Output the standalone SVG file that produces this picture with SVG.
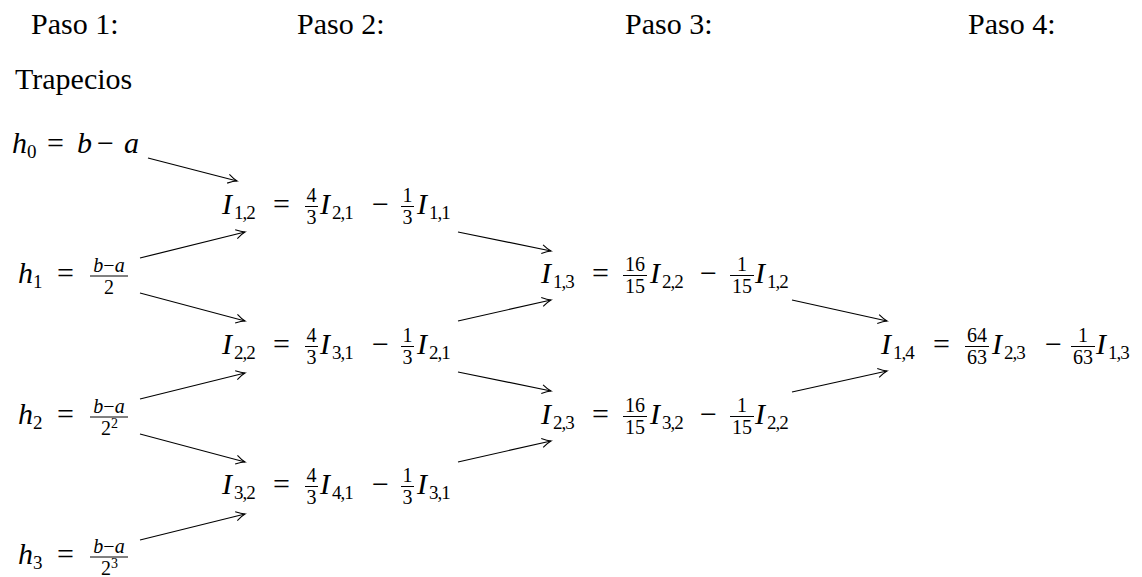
<svg xmlns="http://www.w3.org/2000/svg" width="1142" height="577" viewBox="0 0 1142 577">
<style>
text{font-family:"Liberation Serif","DejaVu Serif",serif;fill:#000}
.t{font-size:30px}
.m{font-size:30px;font-style:italic}
.s{font-size:20px}
.si{font-size:20px;font-style:italic}
.sub{font-size:19px;letter-spacing:-1px}
.sup{font-size:14px}
.c{text-anchor:middle}
.bar{stroke:#000;stroke-width:1}
.arr{stroke:#000;stroke-width:1.2;fill:none;marker-end:url(#ah)}
</style>
<defs>
<marker id="ah" markerUnits="userSpaceOnUse" viewBox="-10 -6 12 12" markerWidth="12" markerHeight="12" refX="0" refY="0" orient="auto">
<path d="M-9,-4.5 Q-3.5,-1 0,0 Q-3.5,1 -9,4.5" stroke="#000" stroke-width="1.1" fill="none"/>
</marker>
</defs>
<rect width="1142" height="577" fill="#fff"/>

<g id="headers">
<text class="t" x="31" y="34">Paso 1:</text>
<text class="t" x="297" y="34">Paso 2:</text>
<text class="t" x="625" y="34">Paso 3:</text>
<text class="t" x="968" y="34">Paso 4:</text>
<text class="t" x="15" y="89">Trapecios</text>
</g>

<g id="h0">
<text class="m" x="12" y="153">h</text><text class="sub" x="27" y="158">0</text>
<text class="t" x="47" y="153">=</text>
<text class="m" x="77" y="153">b</text>
<text class="t" x="97" y="153">−</text>
<text class="m" x="124" y="153">a</text>
</g>

<g id="h1">
<text class="m" x="18" y="283">h</text><text class="sub" x="33" y="288">1</text>
<text class="t" x="57" y="283">=</text>
<text class="s c" x="109" y="272"><tspan class="si">b</tspan>−<tspan class="si">a</tspan></text>
<line class="bar" x1="90" y1="276" x2="128" y2="276"/>
<text class="s c" x="109" y="294">2</text>
</g>

<g id="h2">
<text class="m" x="18" y="424">h</text><text class="sub" x="33" y="429">2</text>
<text class="t" x="57" y="424">=</text>
<text class="s c" x="109" y="413"><tspan class="si">b</tspan>−<tspan class="si">a</tspan></text>
<line class="bar" x1="90" y1="417" x2="128" y2="417"/>
<text class="s" x="101" y="435">2</text><text class="sup" x="111" y="428">2</text>
</g>

<g id="h3">
<text class="m" x="18" y="564">h</text><text class="sub" x="33" y="569">3</text>
<text class="t" x="57" y="564">=</text>
<text class="s c" x="109" y="553"><tspan class="si">b</tspan>−<tspan class="si">a</tspan></text>
<line class="bar" x1="90" y1="557" x2="128" y2="557"/>
<text class="s" x="101" y="575">2</text><text class="sup" x="111" y="568">3</text>
</g>

<g id="I12">
<text class="m" x="222" y="214">I</text><text class="sub" x="234" y="219">1,2</text>
<text class="t" x="273" y="214">=</text>
<text class="s c" x="311.5" y="202">4</text><line class="bar" x1="305" y1="206.5" x2="318" y2="206.5"/><text class="s c" x="311.5" y="224">3</text>
<text class="m" x="320" y="214">I</text><text class="sub" x="332" y="219">2,1</text>
<text class="t" x="372" y="214">−</text>
<text class="s c" x="407.5" y="202">1</text><line class="bar" x1="401" y1="206.5" x2="414" y2="206.5"/><text class="s c" x="407.5" y="224">3</text>
<text class="m" x="417" y="214">I</text><text class="sub" x="429" y="219">1,1</text>
</g>

<g id="I22">
<text class="m" x="222" y="354">I</text><text class="sub" x="234" y="359">2,2</text>
<text class="t" x="273" y="354">=</text>
<text class="s c" x="311.5" y="342">4</text><line class="bar" x1="305" y1="346.5" x2="318" y2="346.5"/><text class="s c" x="311.5" y="364">3</text>
<text class="m" x="320" y="354">I</text><text class="sub" x="332" y="359">3,1</text>
<text class="t" x="372" y="354">−</text>
<text class="s c" x="407.5" y="342">1</text><line class="bar" x1="401" y1="346.5" x2="414" y2="346.5"/><text class="s c" x="407.5" y="364">3</text>
<text class="m" x="417" y="354">I</text><text class="sub" x="429" y="359">2,1</text>
</g>

<g id="I32">
<text class="m" x="222" y="494">I</text><text class="sub" x="234" y="499">3,2</text>
<text class="t" x="273" y="494">=</text>
<text class="s c" x="311.5" y="482">4</text><line class="bar" x1="305" y1="486.5" x2="318" y2="486.5"/><text class="s c" x="311.5" y="504">3</text>
<text class="m" x="320" y="494">I</text><text class="sub" x="332" y="499">4,1</text>
<text class="t" x="372" y="494">−</text>
<text class="s c" x="407.5" y="482">1</text><line class="bar" x1="401" y1="486.5" x2="414" y2="486.5"/><text class="s c" x="407.5" y="504">3</text>
<text class="m" x="417" y="494">I</text><text class="sub" x="429" y="499">3,1</text>
</g>

<g id="I13">
<text class="m" x="541" y="283">I</text><text class="sub" x="553" y="288">1,3</text>
<text class="t" x="592" y="283">=</text>
<text class="s c" x="635" y="271">16</text><line class="bar" x1="623" y1="275.5" x2="647" y2="275.5"/><text class="s c" x="635" y="293">15</text>
<text class="m" x="650" y="283">I</text><text class="sub" x="662" y="288">2,2</text>
<text class="t" x="700" y="283">−</text>
<text class="s c" x="742" y="271">1</text><line class="bar" x1="730" y1="275.5" x2="754" y2="275.5"/><text class="s c" x="742" y="293">15</text>
<text class="m" x="755" y="283">I</text><text class="sub" x="767" y="288">1,2</text>
</g>

<g id="I23">
<text class="m" x="541" y="424">I</text><text class="sub" x="553" y="429">2,3</text>
<text class="t" x="592" y="424">=</text>
<text class="s c" x="635" y="412">16</text><line class="bar" x1="623" y1="416.5" x2="647" y2="416.5"/><text class="s c" x="635" y="434">15</text>
<text class="m" x="650" y="424">I</text><text class="sub" x="662" y="429">3,2</text>
<text class="t" x="700" y="424">−</text>
<text class="s c" x="742" y="412">1</text><line class="bar" x1="730" y1="416.5" x2="754" y2="416.5"/><text class="s c" x="742" y="434">15</text>
<text class="m" x="755" y="424">I</text><text class="sub" x="767" y="429">2,2</text>
</g>

<g id="I14">
<text class="m" x="881" y="354">I</text><text class="sub" x="893" y="359">1,4</text>
<text class="t" x="933" y="354">=</text>
<text class="s c" x="977" y="342">64</text><line class="bar" x1="965" y1="346.5" x2="989" y2="346.5"/><text class="s c" x="977" y="364">63</text>
<text class="m" x="992" y="354">I</text><text class="sub" x="1004" y="359">2,3</text>
<text class="t" x="1045" y="354">−</text>
<text class="s c" x="1083" y="342">1</text><line class="bar" x1="1071" y1="346.5" x2="1095" y2="346.5"/><text class="s c" x="1083" y="364">63</text>
<text class="m" x="1096" y="354">I</text><text class="sub" x="1108" y="359">1,3</text>
</g>

<g id="connectors">
<line class="arr" x1="148" y1="158" x2="237" y2="181"/>
<line class="arr" x1="140" y1="258" x2="245" y2="232"/>
<line class="arr" x1="140" y1="293" x2="245" y2="321"/>
<line class="arr" x1="140" y1="399" x2="245" y2="373"/>
<line class="arr" x1="140" y1="434" x2="245" y2="462"/>
<line class="arr" x1="140" y1="540" x2="245" y2="514"/>
<line class="arr" x1="458" y1="232" x2="551" y2="251"/>
<line class="arr" x1="458" y1="321" x2="551" y2="300"/>
<line class="arr" x1="458" y1="372" x2="551" y2="391"/>
<line class="arr" x1="458" y1="462" x2="551" y2="441"/>
<line class="arr" x1="792" y1="300" x2="887" y2="321"/>
<line class="arr" x1="792" y1="392" x2="887" y2="371"/>
</g>
</svg>
